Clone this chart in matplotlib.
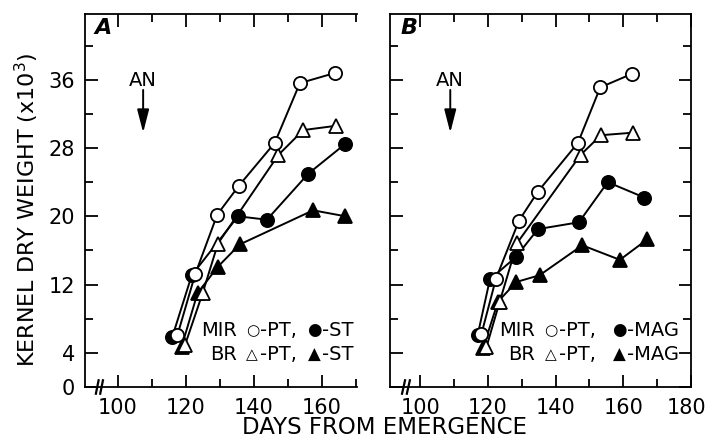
import matplotlib
matplotlib.use("Agg")
import matplotlib.pyplot as plt
import matplotlib.transforms as mtransforms
from matplotlib.ticker import FixedLocator

plt.rcParams['font.family'] = ['DejaVu Sans']

# Panel A: MIR / BR, PT vs ST
a_mir_pt_x = [117.5, 122.7, 129.2, 135.6, 146.1, 153.5, 163.9]
a_mir_pt_y = [6.1, 13.2, 20.2, 23.6, 28.6, 35.6, 36.8]
a_mir_st_x = [116.0, 121.7, 135.3, 143.8, 156.0, 166.9]
a_mir_st_y = [5.9, 13.1, 20.0, 19.6, 25.0, 28.5]
a_br_pt_x = [119.7, 124.9, 129.4, 147.2, 154.5, 164.1]
a_br_pt_y = [4.9, 11.0, 16.8, 27.2, 30.1, 30.6]
a_br_st_x = [118.7, 123.4, 129.4, 135.8, 157.4, 166.9]
a_br_st_y = [4.7, 11.0, 14.1, 16.7, 20.7, 20.0]

# Panel B: MIR / BR, PT vs MAG
b_mir_pt_x = [118.1, 122.4, 129.2, 134.8, 146.6, 153.2, 162.6]
b_mir_pt_y = [6.2, 12.7, 19.5, 22.9, 28.6, 35.1, 36.7]
b_mir_mag_x = [117.0, 120.6, 128.2, 134.8, 146.9, 155.4, 166.2]
b_mir_mag_y = [6.1, 12.6, 15.2, 18.5, 19.3, 24.0, 22.2]
b_br_pt_x = [119.6, 123.5, 128.7, 147.4, 153.4, 163.0]
b_br_pt_y = [4.7, 10.0, 16.9, 27.2, 29.5, 29.8]
b_br_mag_x = [118.6, 123.0, 128.4, 135.3, 147.9, 159.0, 167.1]
b_br_mag_y = [4.6, 10.0, 12.3, 13.1, 16.6, 14.9, 17.3]

y_ticks = [0, 4, 12, 20, 28, 36]
y_minor = [8, 16, 24, 32, 40]
an_day = [107.4, 108.9]

FS = 15
LW = 1.4

fig = plt.figure(figsize=(7.08, 4.42), dpi=100)
axA = fig.add_axes([85 / 708, 55 / 442, 272 / 708, 373 / 442])
axB = fig.add_axes([390 / 708, 55 / 442, 301 / 708, 373 / 442])


def style_axis(ax, xlim, xmajor, xminor, right_side):
    ax.set_xlim(*xlim)
    ax.set_ylim(0, 43.7)
    for s in ax.spines.values():
        s.set_linewidth(1.3)
    ax.spines['right'].set_visible(right_side)
    ax.xaxis.set_major_locator(FixedLocator(xmajor))
    ax.xaxis.set_minor_locator(FixedLocator(xminor))
    ax.yaxis.set_major_locator(FixedLocator(y_ticks))
    ax.yaxis.set_minor_locator(FixedLocator(y_minor))
    ax.tick_params(which='both', direction='in', top=True, right=right_side,
                   width=1.3, labelsize=FS)
    ax.tick_params(which='major', length=9)
    ax.tick_params(which='minor', length=5.5)
    ax.tick_params(axis='x', pad=8)
    ax.tick_params(axis='y', pad=7)
    # axis break on the x axis
    for dx in (0.0, 0.016):
        ax.plot([0.04 + dx, 0.05 + dx], [-0.018, 0.018], color='black',
                lw=1.6, transform=ax.transAxes, clip_on=False)


def draw_series(ax, x, y, marker, filled):
    ax.plot(x, y, color='black', lw=LW, marker=marker,
            ms=9.5 if marker == 'o' else 10.5,
            mfc='black' if filled else 'white', mec='black', mew=1.3,
            clip_on=False)


style_axis(axA, (90.3, 170.3), [100, 120, 140, 160],
           [110, 130, 150, 170], False)
style_axis(axB, (91.1, 180), [100, 120, 140, 160, 180],
           [110, 130, 150, 170], True)
axB.set_yticklabels([])

# keep the last label of panel B inside the picture
fig.canvas.draw()
last = axB.get_xticklabels()[-1]
last.set_transform(last.get_transform() +
                   mtransforms.ScaledTranslation(-4 / 100, 0, fig.dpi_scale_trans))

draw_series(axA, a_br_st_x, a_br_st_y, '^', True)
draw_series(axA, a_mir_st_x, a_mir_st_y, 'o', True)
draw_series(axA, a_br_pt_x, a_br_pt_y, '^', False)
draw_series(axA, a_mir_pt_x, a_mir_pt_y, 'o', False)

draw_series(axB, b_br_mag_x, b_br_mag_y, '^', True)
draw_series(axB, b_mir_mag_x, b_mir_mag_y, 'o', True)
draw_series(axB, b_br_pt_x, b_br_pt_y, '^', False)
draw_series(axB, b_mir_pt_x, b_mir_pt_y, 'o', False)

# panel letters and anthesis arrows
for ax, letter, day in ((axA, 'A', an_day[0]), (axB, 'B', an_day[1])):
    ax.text(0.035, 0.962, letter, transform=ax.transAxes, fontsize=16,
            style='italic', fontweight='bold', ha='left', va='center')
    ax.annotate('', xy=(day, 29.8), xytext=(day, 34.8),
                arrowprops=dict(arrowstyle='-|>,head_length=0.7,head_width=0.18',
                                color='black', lw=1.4, mutation_scale=20,
                                shrinkA=0, shrinkB=0))
    ax.text(day, 35.9, 'AN', fontsize=14, ha='center', va='center')

# in-panel keys
TS = 14
rows = [0.152, 0.086]
keyA = [('MIR', '\u25CB', '-PT,', '\u25CF', '-ST'),
        ('BR', '\u25B3', '-PT,', '\u25B2', '-ST')]
keyB = [('MIR', '\u25CB', '-PT,', '\u25CF', '-MAG'),
        ('BR', '\u25B3', '-PT,', '\u25B2', '-MAG')]
colsA = (0.559, 0.615, 0.645, 0.843, 0.872)
colsB = (0.482, 0.535, 0.562, 0.762, 0.787)
for ax, key, cols in ((axA, keyA, colsA), (axB, keyB, colsB)):
    for yy, (lab, m1, t1, m2, t2) in zip(rows, key):
        ax.text(cols[0], yy, lab, transform=ax.transAxes, fontsize=TS,
                ha='right', va='center')
        ax.text(cols[1], yy, m1, transform=ax.transAxes, fontsize=TS - 3,
                ha='center', va='center')
        ax.text(cols[2], yy, t1, transform=ax.transAxes, fontsize=TS,
                ha='left', va='center')
        ax.text(cols[3], yy, m2, transform=ax.transAxes, fontsize=TS - 2,
                ha='center', va='center')
        ax.text(cols[4], yy, t2, transform=ax.transAxes, fontsize=TS,
                ha='left', va='center')

fig.text(27 / 708, 1 - 210 / 442, 'KERNEL DRY WEIGHT (x10$^{3}$)',
         rotation=90, fontsize=16, ha='center', va='center')
fig.text(384 / 708, 1 - 428 / 442, 'DAYS FROM EMERGENCE', fontsize=16.5,
         ha='center', va='center')

fig.savefig('out.png', dpi=100)
